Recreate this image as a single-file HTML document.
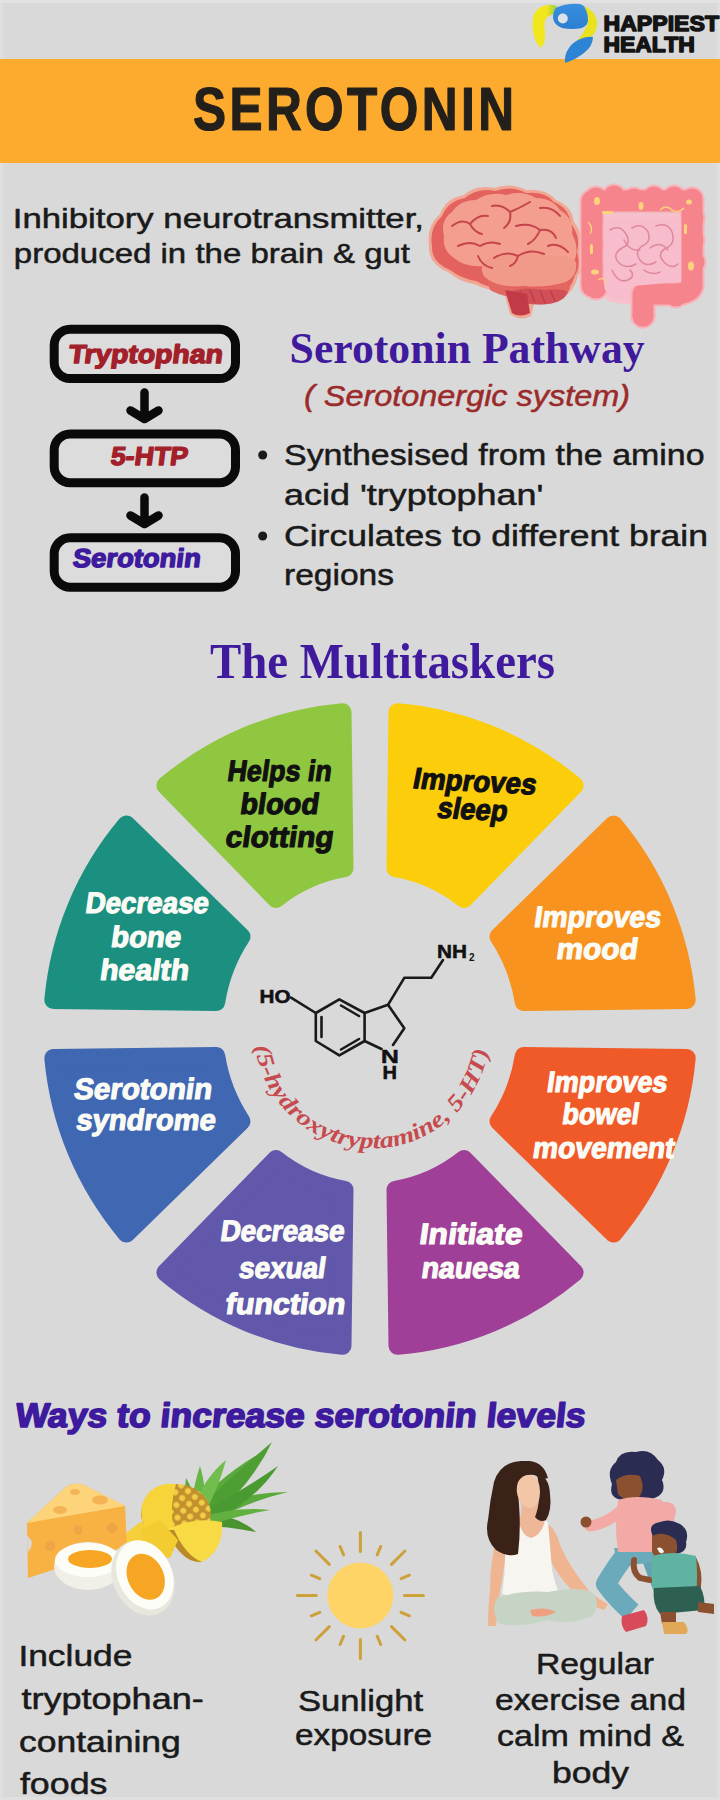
<!DOCTYPE html>
<html><head><meta charset="utf-8">
<style>
html,body{margin:0;padding:0;}
body{width:720px;height:1800px;background:#d9d9d9;position:relative;overflow:hidden;font-family:"Liberation Sans",sans-serif;}
svg{position:absolute;left:0;top:0;}
</style></head><body>
<svg width="720" height="1800" viewBox="0 0 720 1800">
<rect x="0" y="0" width="3" height="1800" fill="#dfdfdf"/><rect x="717" y="0" width="3" height="1800" fill="#dfdfdf"/><rect x="0" y="1797" width="720" height="3" fill="#dfdfdf"/><rect x="0" y="0" width="720" height="3" fill="#e2e2e2"/>
<rect x="0" y="59" width="720" height="104" fill="#fdab2f"/>
<path d="M395.5 868.2 L397.5 712.2 A318 318 0 0 1 574.6 785.5 L464.0 898.9 A156 163 0 0 0 395.5 868.2 Z" fill="#fbcd0a" stroke="#fbcd0a" stroke-width="18" stroke-linejoin="round"/>
<path d="M498.5 936.6 L613.5 824.4 A318 318 0 0 1 686.7 1000.0 L523.8 1002.0 A156 163 0 0 0 498.5 936.6 Z" fill="#f7931e" stroke="#f7931e" stroke-width="18" stroke-linejoin="round"/>
<path d="M523.8 1056.0 L686.7 1058.0 A318 318 0 0 1 613.5 1233.6 L498.5 1121.4 A156 163 0 0 0 523.8 1056.0 Z" fill="#f05a28" stroke="#f05a28" stroke-width="18" stroke-linejoin="round"/>
<path d="M464.0 1159.1 L574.6 1272.5 A318 318 0 0 1 397.5 1345.8 L395.5 1189.8 A156 163 0 0 0 464.0 1159.1 Z" fill="#a03f98" stroke="#a03f98" stroke-width="18" stroke-linejoin="round"/>
<path d="M344.5 1189.8 L342.5 1345.8 A318 318 0 0 1 165.4 1272.5 L276.0 1159.1 A156 163 0 0 0 344.5 1189.8 Z" fill="#6157ab" stroke="#6157ab" stroke-width="18" stroke-linejoin="round"/>
<path d="M241.5 1121.4 L126.5 1233.6 A318 318 0 0 1 53.3 1058.0 L216.2 1056.0 A156 163 0 0 0 241.5 1121.4 Z" fill="#3f67b2" stroke="#3f67b2" stroke-width="18" stroke-linejoin="round"/>
<path d="M216.2 1002.0 L53.3 1000.0 A318 318 0 0 1 126.5 824.4 L241.5 936.6 A156 163 0 0 0 216.2 1002.0 Z" fill="#1b9080" stroke="#1b9080" stroke-width="18" stroke-linejoin="round"/>
<path d="M276.0 898.9 L165.4 785.5 A318 318 0 0 1 342.5 712.2 L344.5 868.2 A156 163 0 0 0 276.0 898.9 Z" fill="#8fc740" stroke="#8fc740" stroke-width="18" stroke-linejoin="round"/>

<rect x="54.2" y="329.2" width="181.3" height="49.30000000000001" rx="16" ry="16" fill="#dcdcdc" stroke="#0a0a0a" stroke-width="9"/>
<rect x="54.2" y="433.9" width="181.3" height="48.80000000000001" rx="16" ry="16" fill="#dcdcdc" stroke="#0a0a0a" stroke-width="9"/>
<rect x="54.2" y="537.8" width="181.3" height="49.40000000000009" rx="16" ry="16" fill="#dcdcdc" stroke="#0a0a0a" stroke-width="9"/>
<path d="M144.5 392.5 L144.5 417 M130.5 410.5 L144.5 419 L158.5 410.5" fill="none" stroke="#0a0a0a" stroke-width="8.5" stroke-linecap="round" stroke-linejoin="round"/>
<path d="M144.5 497.5 L144.5 522 M130.5 515.5 L144.5 524 L158.5 515.5" fill="none" stroke="#0a0a0a" stroke-width="8.5" stroke-linecap="round" stroke-linejoin="round"/>
<circle cx="262.7" cy="455" r="4.5" fill="#1a1a1a"/>
<circle cx="262.7" cy="536" r="4.5" fill="#1a1a1a"/>
<g fill="none" stroke="#1a1a1a" stroke-width="2.6" stroke-linejoin="round" stroke-linecap="round"><path d="M315.8 1013.0 L339.3 999.4 L364.6 1013.0 L364.6 1041.0 L339.3 1055.4 L315.8 1041.0 Z"/><path d="M291 997.6 L315.8 1013"/><path d="M321.5 1017 L321.5 1037 M341 1005.5 L359 1016 M341 1049.5 L359 1039"/><path d="M364.6 1013 L388 1004.8 L404.3 1028.3 L393 1045 M381.5 1049 L364.6 1041"/><path d="M388 1004.8 L404.3 977.8 L431.3 977.8 L443 960"/></g>
<text x="259.5" y="1003" font-family="Liberation Sans" font-weight="bold" font-size="18" textLength="31" lengthAdjust="spacingAndGlyphs" fill="#111" stroke="#111" stroke-width="0.5">HO</text>
<text x="437" y="958" font-family="Liberation Sans" font-weight="bold" font-size="18" textLength="30" lengthAdjust="spacingAndGlyphs" fill="#111" stroke="#111" stroke-width="0.5">NH</text>
<text x="469" y="961" font-family="Liberation Sans" font-weight="bold" font-size="10" fill="#111">2</text>
<text x="381" y="1062.6" font-family="Liberation Sans" font-weight="bold" font-size="18" textLength="17.8" lengthAdjust="spacingAndGlyphs" fill="#111" stroke="#111" stroke-width="0.5">N</text>
<text x="382.6" y="1079" font-family="Liberation Sans" font-weight="bold" font-size="18" textLength="14.5" lengthAdjust="spacingAndGlyphs" fill="#111" stroke="#111" stroke-width="0.5">H</text>
<path id="arc" d="M255.1 1046.4 A118 118 0 0 0 488.9 1046.4" fill="none"/>
<text font-family="Liberation Serif" font-style="italic" font-weight="bold" font-size="23" fill="#c64a4e"><textPath href="#arc" textLength="334" lengthAdjust="spacingAndGlyphs">(5-hydroxytryptamine, 5-HT)</textPath></text><defs><linearGradient id="lg1" x1="0" y1="0" x2="1" y2="0"><stop offset="0.55" stop-color="#f2e61c"/><stop offset="1" stop-color="#8cc850"/></linearGradient><linearGradient id="lg2" x1="0" y1="0" x2="0" y2="1"><stop offset="0" stop-color="#3a8ee0"/><stop offset="1" stop-color="#2a7fd0"/></linearGradient></defs>
<path d="M548 5 Q538 6 534 14 Q531 24 534 36 Q536 44 541 48 Q546 42 545 32 Q543 22 547 17 Q551 14 557 14 L558 7 Q553 4 548 5 Z" fill="url(#lg1)"/>
<path d="M556 8 Q566 3 580 4 Q589 7 589 16 Q589 25 582 28 Q572 30 562 28 Q554 25 553 18 Q553 11 556 8 Z" fill="url(#lg2)"/>
<circle cx="562.8" cy="18.5" r="5" fill="#dde2e6"/>
<path d="M584 6 Q594 10 597 20 Q598 31 591 37 Q585 41 577 41 Q583 34 587 26 Q590 16 584 6 Z" fill="#e9e21e"/>
<path d="M578 40 Q586 36 593 37 Q593 46 584 53 Q575 60 565 63 Q564 55 569 48 Q572 43 578 40 Z" fill="#2d84d4"/>
<g>
<path d="M429 246 Q426 226 440 214 Q446 198 464 195 Q476 184 494 188 Q512 182 526 190 Q546 188 556 200 Q572 206 574 222 Q584 234 580 252 Q584 268 578 276 Q574 292 562 298 Q550 306 534 304 L531 316 Q520 322 510 314 L504 292 Q486 290 474 284 Q460 282 448 272 Q428 264 429 246 Z" fill="#f0a894"/>
<path d="M432 246 Q429 228 442 216 Q448 201 465 198 Q478 187 495 191 Q512 185 526 193 Q545 191 554 202 Q569 208 571 224 Q581 236 577 252 Q581 267 575 275 Q571 290 560 295 Q548 302 533 300 Q520 300 506 290 Q488 288 476 281 Q462 279 450 270 Q431 262 432 246 Z" fill="#e3625e"/>
<path d="M444 236 Q440 220 452 212 Q460 200 476 200 Q490 191 506 195 Q522 190 536 198 Q552 198 560 210 Q574 218 572 234 Q580 248 574 262 Q570 272 560 272 Q540 276 520 272 Q500 276 484 266 Q466 268 454 258 Q442 250 444 236 Z" fill="#f39e8e"/>
<path d="M484 262 Q494 252 512 256 Q530 250 550 256 Q566 254 576 262 Q578 276 566 282 Q546 288 524 286 Q502 288 488 280 Q478 272 484 262 Z" fill="#f29a8a"/>
<path d="M486 278 Q502 290 526 288 Q550 290 568 282 Q574 290 562 296 Q544 300 526 298 Q504 298 490 290 Z" fill="#e46862"/>
<path d="M510 292 Q524 286 544 290 Q562 288 568 292 Q564 302 548 304 Q530 306 514 300 Z" fill="#d24f57"/>
<path d="M505 290 L512 313 Q520 318 530 313 L527 294 Z" fill="#c23a46"/>
<g fill="none" stroke="#c4454b" stroke-width="2" stroke-linecap="round" stroke-linejoin="round"><path d="M452 226 Q462 218 470 224 Q478 214 488 216 M470 224 Q474 232 482 234"/><path d="M458 246 Q470 240 480 246 Q490 240 500 244"/><path d="M492 206 Q502 204 510 212 Q520 208 530 202 M510 212 Q512 222 504 228"/><path d="M516 226 Q530 222 540 230 Q552 228 556 238 M540 230 Q536 240 528 244"/><path d="M540 208 Q552 206 560 216"/><path d="M494 258 Q506 250 518 256 Q530 248 544 254 M518 256 Q516 264 510 266"/><path d="M548 246 Q558 242 568 252"/><path d="M478 256 Q482 266 492 268"/></g>
<g stroke="#b8404a" stroke-width="1.4"><path d="M520 291 L525 302 M530 290 L535 303 M540 290 L545 303 M550 290 L555 301"/></g>
</g>
<g>
<path d="M603 216 L682 216 L682 292 L640 300 Q630 304 612 300 Q604 298 603 286 Z" fill="#f7bdcc" stroke="#f8c0cc" stroke-width="4"/>
<g fill="#f8b3b9"><circle cx="596" cy="198" r="12.5"/><circle cx="614" cy="196" r="12.5"/><circle cx="634" cy="199" r="12.5"/><circle cx="654" cy="197" r="12.5"/><circle cx="674" cy="197" r="12.5"/><circle cx="692" cy="199" r="12.5"/><circle cx="693" cy="218" r="12.5"/><circle cx="693" cy="240" r="12.5"/><circle cx="694" cy="262" r="12.5"/><circle cx="692" cy="284" r="12.5"/><circle cx="676" cy="296" r="12.5"/><circle cx="592" cy="222" r="12.5"/><circle cx="592" cy="246" r="12.5"/><circle cx="592" cy="270" r="12.5"/><circle cx="596" cy="288" r="12.5"/><circle cx="643" cy="316" r="12.5"/></g>
<path d="M592 286 L592 201 L692 201 L692 286 Q690 294 672 294 L643 294 L643 316" fill="none" stroke="#f8b3b9" stroke-width="25" stroke-linecap="round" stroke-linejoin="round"/>
<g fill="#f5848d"><circle cx="596" cy="198" r="10.5"/><circle cx="614" cy="196" r="10.5"/><circle cx="634" cy="199" r="10.5"/><circle cx="654" cy="197" r="10.5"/><circle cx="674" cy="197" r="10.5"/><circle cx="692" cy="199" r="10.5"/><circle cx="693" cy="218" r="10.5"/><circle cx="693" cy="240" r="10.5"/><circle cx="694" cy="262" r="10.5"/><circle cx="692" cy="284" r="10.5"/><circle cx="676" cy="296" r="10.5"/><circle cx="592" cy="222" r="10.5"/><circle cx="592" cy="246" r="10.5"/><circle cx="592" cy="270" r="10.5"/><circle cx="596" cy="288" r="10.5"/><circle cx="643" cy="316" r="10.5"/></g>
<path d="M592 286 L592 201 L692 201 L692 286 Q690 294 672 294 L643 294 L643 316" fill="none" stroke="#f5848d" stroke-width="21" stroke-linecap="round" stroke-linejoin="round"/>
<path d="M604 218 L681 218 L681 282 Q668 282 656 284 L632 286 Q628 296 614 296 Q604 294 604 284 Z" fill="#f7bdcc"/>
<g fill="none" stroke="#df88a0" stroke-width="1.5" stroke-linecap="round"><path d="M610 230 Q620 224 626 234 Q632 244 622 248 Q612 254 618 262 Q626 270 636 264"/><path d="M632 228 Q642 222 648 232 Q652 242 642 246 Q634 252 640 260 Q646 268 656 262"/><path d="M656 226 Q668 222 672 232 Q676 244 666 248 Q656 254 664 262 Q672 270 678 264"/><path d="M612 270 Q618 284 628 280 Q636 276 630 270"/><path d="M644 270 Q652 276 660 272"/><path d="M624 240 Q630 252 640 250"/><path d="M650 248 Q660 240 668 250"/></g>
<g fill="#fcd27c"><ellipse cx="597" cy="201" rx="3" ry="4"/><rect x="602" y="211" width="11" height="3" rx="1.5"/><ellipse cx="641" cy="206" rx="2.5" ry="4"/><ellipse cx="689" cy="202" rx="3" ry="2.5"/><ellipse cx="691" cy="266" rx="3" ry="4.5"/><ellipse cx="595" cy="272" rx="4" ry="2.5"/><rect x="590" y="244" width="3" height="10" rx="1.5"/><rect x="684" y="224" width="3" height="10" rx="1.5"/></g>
<g fill="none" stroke="#fcd27c" stroke-width="1.3"><path d="M660 210 Q666 204 672 210 Q678 214 684 208"/><path d="M598 280 Q604 276 606 284"/><path d="M588 222 Q594 228 590 234"/></g>
</g><circle cx="360.4" cy="1595.5" r="33" fill="#fed466"/>
<path d="M360.4 1551.5 L360.4 1532.5 M377.2 1554.8 L380.7 1546.5 M391.5 1564.4 L404.9 1551.0 M401.1 1578.7 L409.4 1575.2 M404.4 1595.5 L423.4 1595.5 M401.1 1612.3 L409.4 1615.8 M391.5 1626.6 L404.9 1640.0 M377.2 1636.2 L380.7 1644.5 M360.4 1639.5 L360.4 1658.5 M343.6 1636.2 L340.1 1644.5 M329.3 1626.6 L315.9 1640.0 M319.7 1612.3 L311.4 1615.8 M316.4 1595.5 L297.4 1595.5 M319.7 1578.7 L311.4 1575.2 M329.3 1564.4 L315.9 1551.0 M343.6 1554.8 L340.1 1546.5" stroke="#cda13a" stroke-width="3" stroke-linecap="round" fill="none"/>
<g><path d="M192 1512 Q214 1480 262 1452 Q240 1486 206 1520 Z" fill="#5aa93c"/><path d="M194 1512 Q230 1478 272 1442 Q252 1484 210 1520 Z" fill="#4e9e34"/><path d="M196 1514 Q240 1492 288 1492 Q246 1502 208 1524 Z" fill="#5aa93c"/><path d="M198 1516 Q234 1512 256 1532 Q226 1526 204 1526 Z" fill="#4a9430"/><path d="M190 1510 Q194 1484 200 1466 Q208 1492 202 1514 Z" fill="#66b545"/><path d="M192 1510 Q204 1478 226 1460 Q218 1490 204 1514 Z" fill="#72bd4c"/><path d="M196 1514 Q238 1494 278 1466 Q256 1500 212 1522 Z" fill="#4a9a32"/><path d="M198 1518 Q236 1506 270 1510 Q236 1516 206 1526 Z" fill="#62b040"/><path d="M188 1510 Q184 1492 186 1478 Q196 1494 196 1512 Z" fill="#5aa93c"/></g>
<defs><pattern id="pp" width="9" height="9" patternUnits="userSpaceOnUse" patternTransform="rotate(40)"><rect width="9" height="9" fill="#c2902c"/><circle cx="4.5" cy="4.5" r="3" fill="#f0cc48"/></pattern></defs>
<ellipse cx="176" cy="1514" rx="35" ry="30" fill="url(#pp)"/>
<path d="M176 1484 Q150 1482 142 1505 Q138 1530 160 1542 Q172 1546 180 1540 Q166 1520 176 1484 Z" fill="#f6d43a"/>
<path d="M166 1530 Q194 1516 222 1522 Q224 1550 202 1562 Q182 1564 166 1530 Z" fill="#f8da45"/>
<path d="M166 1530 Q182 1564 202 1562 Q186 1556 174 1530 Z" fill="#b88a2a"/>
<path d="M118 1540 L140 1522 L158 1532 L146 1555 Z" fill="#f5d03a"/>
<path d="M140 1530 L160 1520 L178 1540 L170 1558 L150 1555 Z" fill="#f2cc30"/>
<path d="M27 1523 L67 1486 Q75 1482 84 1485 L125 1506 L127 1546 L28 1578 Z" fill="#f8b244"/>
<path d="M27 1523 L67 1486 Q75 1482 84 1485 L125 1506 Z" fill="#fdd479"/>
<g fill="#efa445"><ellipse cx="100" cy="1500" rx="8" ry="4.5" fill="#f4b456"/><ellipse cx="60" cy="1510" rx="7" ry="4" fill="#f4b456"/><ellipse cx="75" cy="1492" rx="5" ry="3" fill="#f4b456"/><circle cx="50" cy="1546" r="5"/><circle cx="78" cy="1530" r="4.5"/><circle cx="112" cy="1528" r="5"/></g>
<path d="M27 1536 Q36 1542 28 1552 Z" fill="#d9d9d9"/>
<ellipse cx="88" cy="1566" rx="34" ry="24" fill="#f1efe8"/>
<ellipse cx="88" cy="1560" rx="33" ry="17" fill="#fdfdf8"/>
<ellipse cx="90" cy="1559" rx="22" ry="9" fill="#f6a623"/>
<g transform="rotate(-25 143 1578)"><ellipse cx="143" cy="1578" rx="30" ry="39" fill="#e9e6de"/><ellipse cx="146" cy="1576" rx="27" ry="36" fill="#fdfdf8"/><ellipse cx="146" cy="1578" rx="18" ry="24" fill="#f6a623"/></g>
<g>
<path d="M498 1532 Q490 1560 490 1590 Q488 1610 488 1626 L496 1626 Q498 1600 502 1580 Q506 1556 508 1536 Z" fill="#efb590"/>
<path d="M545 1522 Q556 1528 560 1545 Q570 1568 590 1592 Q600 1600 608 1604 L604 1610 Q592 1606 580 1598 Q560 1580 550 1560 Q544 1540 545 1522 Z" fill="#efb590"/>
<path d="M519 1520 Q522 1536 531 1538 Q540 1536 543 1520 L548 1522 Q550 1545 552 1570 Q556 1588 560 1594 Q530 1600 502 1594 Q506 1570 505 1545 Q505 1530 510 1522 Z" fill="#f7f5ef"/>
<path d="M522 1498 L538 1498 L540 1516 Q546 1520 544 1524 Q540 1536 531 1538 Q522 1536 519 1522 Q516 1518 521 1516 Z" fill="#eeb898"/>
<path d="M521 1461 Q500 1462 494 1482 Q490 1500 488 1520 Q484 1538 496 1550 Q508 1558 518 1554 Q521 1530 519 1505 Q517 1485 524 1476 Q536 1472 540 1480 L548 1478 Q544 1463 530 1461 Z" fill="#3a2219"/>
<path d="M537 1474 Q549 1476 550 1494 Q552 1510 546 1520 Q540 1523 535 1517 Q542 1500 537 1474 Z" fill="#3a2219"/>
<path d="M518 1482 Q522 1474 532 1475 Q540 1479 540 1492 Q540 1504 532 1508 Q523 1508 519 1500 Q515 1490 518 1482 Z" fill="#f2c6a6"/>
<path d="M497 1598 Q520 1590 548 1592 Q575 1586 592 1592 Q602 1604 592 1616 Q570 1626 548 1620 Q520 1628 500 1624 Q490 1612 497 1598 Z" fill="#c6d4c6"/>
<path d="M530 1610 Q545 1606 556 1612 Q545 1618 532 1616 Z" fill="#eea080"/>
</g>
<g>
<path d="M622 1500 Q608 1498 612 1484 Q606 1470 616 1462 Q620 1450 636 1452 Q650 1448 658 1460 Q668 1468 662 1480 Q668 1494 652 1499 Q640 1502 622 1500 Z" fill="#2b2c52"/>
<path d="M616 1480 Q626 1472 640 1476 Q646 1490 638 1498 Q624 1502 618 1494 Z" fill="#8b5030"/>
<path d="M660 1502 Q676 1500 676 1512 L672 1528 L660 1526 Z" fill="#f3aaa6"/>
<path d="M650 1556 L662 1588 L668 1600" stroke="#62a2b4" stroke-width="18" fill="none" stroke-linejoin="round"/>
<path d="M628 1552 Q615 1568 606 1584 Q618 1600 632 1612" stroke="#6aaabb" stroke-width="20" fill="none" stroke-linejoin="round"/>
<path d="M614 1548 L660 1548 L660 1562 L618 1566 Z" fill="#6aaabb"/>
<path d="M618 1500 Q636 1494 662 1500 Q666 1525 662 1552 L618 1552 Q614 1525 618 1500 Z" fill="#f3aaa6"/>
<path d="M622 1510 Q606 1524 590 1526" stroke="#f3aaa6" stroke-width="11" fill="none" stroke-linecap="round"/>
<circle cx="586" cy="1522" r="5.5" fill="#8b5030"/>
<path d="M622 1616 L644 1610 Q650 1618 646 1626 L626 1632 Q620 1626 622 1616 Z" fill="#d84a5a"/>
</g>
<g>
<path d="M652 1534 Q648 1524 660 1522 Q670 1518 680 1524 Q690 1530 686 1542 Q688 1552 676 1554 L656 1552 Z" fill="#2b2c52"/>
<path d="M652 1536 Q664 1530 676 1540 Q680 1554 670 1560 Q656 1562 652 1552 Z" fill="#8b5030"/>
<path d="M657 1548 Q662 1546 664 1552 Q660 1556 657 1548 Z" fill="#f5f5f5"/>
<path d="M634 1560 Q632 1572 640 1578 L650 1580" stroke="#8b5030" stroke-width="6" fill="none" stroke-linecap="round"/>
<path d="M694 1560 Q700 1572 698 1586" stroke="#8b5030" stroke-width="6" fill="none" stroke-linecap="round"/>
<path d="M652 1556 Q672 1550 696 1556 Q698 1576 696 1594 L654 1594 Q650 1576 652 1556 Z" fill="#5fb3a0"/>
<path d="M654 1588 L700 1586 Q706 1598 704 1610 L660 1614 Q652 1604 654 1588 Z" fill="#2d5f52"/>
<path d="M660 1612 L676 1612 L676 1624 L662 1624 Z" fill="#8b5030"/>
<path d="M698 1602 L714 1604 L714 1614 L698 1612 Z" fill="#8b5030"/>
<path d="M662 1622 L684 1622 Q690 1630 686 1634 L664 1634 Z" fill="#e1a858"/>
</g>
<text x="603.50" y="30.7" textLength="115.50" lengthAdjust="spacingAndGlyphs" font-family="Liberation Sans" font-size="22.5" font-weight="bold" font-style="normal" fill="#141414" stroke="#141414" stroke-width="1.5" stroke-linejoin="round">HAPPIEST</text>
<text x="603.50" y="52.3" textLength="91.20" lengthAdjust="spacingAndGlyphs" font-family="Liberation Sans" font-size="22.5" font-weight="bold" font-style="normal" fill="#141414" stroke="#141414" stroke-width="1.5" stroke-linejoin="round">HEALTH</text>
<text x="241.25" y="130" textLength="401.25" lengthAdjust="spacing" font-family="Liberation Sans" font-size="62" font-weight="bold" font-style="normal" fill="#231f1a" transform="scale(0.8,1)" stroke="#231f1a" stroke-width="1.2" stroke-linejoin="round">SEROTONIN</text>
<text x="12.80" y="227.5" textLength="411.20" lengthAdjust="spacingAndGlyphs" font-family="Liberation Sans" font-size="28" font-weight="normal" font-style="normal" fill="#1a1a1a" stroke="#1a1a1a" stroke-width="0.5" stroke-linejoin="round">Inhibitory neurotransmitter,</text>
<text x="13.80" y="263.3" textLength="396.20" lengthAdjust="spacingAndGlyphs" font-family="Liberation Sans" font-size="28" font-weight="normal" font-style="normal" fill="#1a1a1a" stroke="#1a1a1a" stroke-width="0.5" stroke-linejoin="round">produced in the brain &amp; gut</text>
<text x="112.27" y="363" textLength="154.30" lengthAdjust="spacingAndGlyphs" font-family="Liberation Sans" font-size="26" font-weight="bold" font-style="normal" fill="#a3202a" transform="skewX(-7)" stroke="#a3202a" stroke-width="1.4" stroke-linejoin="round">Tryptophan</text>
<text x="167.09" y="465" textLength="77.00" lengthAdjust="spacingAndGlyphs" font-family="Liberation Sans" font-size="26" font-weight="bold" font-style="normal" fill="#a3202a" transform="skewX(-7)" stroke="#a3202a" stroke-width="1.4" stroke-linejoin="round">5-HTP</text>
<text x="141.62" y="567" textLength="128.00" lengthAdjust="spacingAndGlyphs" font-family="Liberation Sans" font-size="26" font-weight="bold" font-style="normal" fill="#3d1a9e" transform="skewX(-7)" stroke="#3d1a9e" stroke-width="1.4" stroke-linejoin="round">Serotonin</text>
<text x="289.60" y="363" textLength="355.00" lengthAdjust="spacingAndGlyphs" font-family="Liberation Serif" font-size="44" font-weight="bold" font-style="normal" fill="#3f1a9c">Serotonin Pathway</text>
<text x="304.00" y="405.5" textLength="326.00" lengthAdjust="spacingAndGlyphs" font-family="Liberation Sans" font-size="30" font-weight="normal" font-style="italic" fill="#9b2a2a" stroke="#9b2a2a" stroke-width="0.5" stroke-linejoin="round">( Serotonergic system)</text>
<text x="284.00" y="465" textLength="420.60" lengthAdjust="spacingAndGlyphs" font-family="Liberation Sans" font-size="30" font-weight="normal" font-style="normal" fill="#1a1a1a" stroke="#1a1a1a" stroke-width="0.5" stroke-linejoin="round">Synthesised from the amino</text>
<text x="284.00" y="505" textLength="259.40" lengthAdjust="spacingAndGlyphs" font-family="Liberation Sans" font-size="30" font-weight="normal" font-style="normal" fill="#1a1a1a" stroke="#1a1a1a" stroke-width="0.5" stroke-linejoin="round">acid &#39;tryptophan&#39;</text>
<text x="284.00" y="546" textLength="424.00" lengthAdjust="spacingAndGlyphs" font-family="Liberation Sans" font-size="30" font-weight="normal" font-style="normal" fill="#1a1a1a" stroke="#1a1a1a" stroke-width="0.5" stroke-linejoin="round">Circulates to different  brain</text>
<text x="284.00" y="585" textLength="110.00" lengthAdjust="spacingAndGlyphs" font-family="Liberation Sans" font-size="30" font-weight="normal" font-style="normal" fill="#1a1a1a" stroke="#1a1a1a" stroke-width="0.5" stroke-linejoin="round">regions</text>
<text x="210.00" y="677.5" textLength="345.00" lengthAdjust="spacingAndGlyphs" font-family="Liberation Serif" font-size="50" font-weight="bold" font-style="normal" fill="#3f1a9c">The Multitaskers</text>
<text x="336.28" y="781.1" textLength="104.00" lengthAdjust="spacingAndGlyphs" font-family="Liberation Sans" font-size="29.5" font-weight="bold" font-style="normal" fill="#111" transform="skewX(-8)" stroke="#111" stroke-width="1.2" stroke-linejoin="round">Helps in</text>
<text x="353.63" y="814.2" textLength="78.70" lengthAdjust="spacingAndGlyphs" font-family="Liberation Sans" font-size="29.5" font-weight="bold" font-style="normal" fill="#111" transform="skewX(-8)" stroke="#111" stroke-width="1.2" stroke-linejoin="round">blood</text>
<text x="343.67" y="847.2" textLength="108.00" lengthAdjust="spacingAndGlyphs" font-family="Liberation Sans" font-size="29.5" font-weight="bold" font-style="normal" fill="#111" transform="skewX(-8)" stroke="#111" stroke-width="1.2" stroke-linejoin="round">clotting</text>
<text x="522.45" y="788" textLength="123.30" lengthAdjust="spacingAndGlyphs" font-family="Liberation Sans" font-size="29.5" font-weight="bold" font-style="normal" fill="#111" transform="rotate(3 411.7 788) skewX(-8)" stroke="#111" stroke-width="1.2" stroke-linejoin="round">Improves</text>
<text x="550.89" y="817.5" textLength="70.00" lengthAdjust="spacingAndGlyphs" font-family="Liberation Sans" font-size="29.5" font-weight="bold" font-style="normal" fill="#111" transform="rotate(3 436 817.5) skewX(-8)" stroke="#111" stroke-width="1.2" stroke-linejoin="round">sleep</text>
<text x="663.54" y="926.7" textLength="126.70" lengthAdjust="spacingAndGlyphs" font-family="Liberation Sans" font-size="29.5" font-weight="bold" font-style="normal" fill="#fbfbf6" transform="skewX(-8)" stroke="#fbfbf6" stroke-width="1.2" stroke-linejoin="round">Improves</text>
<text x="690.36" y="958.9" textLength="81.00" lengthAdjust="spacingAndGlyphs" font-family="Liberation Sans" font-size="29.5" font-weight="bold" font-style="normal" fill="#fbfbf6" transform="skewX(-8)" stroke="#fbfbf6" stroke-width="1.2" stroke-linejoin="round">mood</text>
<text x="212.76" y="913.3" textLength="123.40" lengthAdjust="spacingAndGlyphs" font-family="Liberation Sans" font-size="29.5" font-weight="bold" font-style="normal" fill="#fbfbf6" transform="skewX(-8)" stroke="#fbfbf6" stroke-width="1.2" stroke-linejoin="round">Decrease</text>
<text x="243.05" y="946.7" textLength="70.00" lengthAdjust="spacingAndGlyphs" font-family="Liberation Sans" font-size="29.5" font-weight="bold" font-style="normal" fill="#fbfbf6" transform="skewX(-8)" stroke="#fbfbf6" stroke-width="1.2" stroke-linejoin="round">bone</text>
<text x="236.63" y="980" textLength="89.00" lengthAdjust="spacingAndGlyphs" font-family="Liberation Sans" font-size="29.5" font-weight="bold" font-style="normal" fill="#fbfbf6" transform="skewX(-8)" stroke="#fbfbf6" stroke-width="1.2" stroke-linejoin="round">health</text>
<text x="227.48" y="1099.2" textLength="138.00" lengthAdjust="spacingAndGlyphs" font-family="Liberation Sans" font-size="29.5" font-weight="bold" font-style="normal" fill="#fbfbf6" transform="skewX(-8)" stroke="#fbfbf6" stroke-width="1.2" stroke-linejoin="round">Serotonin</text>
<text x="234.11" y="1130" textLength="139.40" lengthAdjust="spacingAndGlyphs" font-family="Liberation Sans" font-size="29.5" font-weight="bold" font-style="normal" fill="#fbfbf6" transform="skewX(-8)" stroke="#fbfbf6" stroke-width="1.2" stroke-linejoin="round">syndrome</text>
<text x="699.46" y="1091.9" textLength="120.40" lengthAdjust="spacingAndGlyphs" font-family="Liberation Sans" font-size="29.5" font-weight="bold" font-style="normal" fill="#fbfbf6" transform="skewX(-8)" stroke="#fbfbf6" stroke-width="1.2" stroke-linejoin="round">Improves</text>
<text x="719.24" y="1123.8" textLength="76.70" lengthAdjust="spacingAndGlyphs" font-family="Liberation Sans" font-size="29.5" font-weight="bold" font-style="normal" fill="#fbfbf6" transform="skewX(-8)" stroke="#fbfbf6" stroke-width="1.2" stroke-linejoin="round">bowel</text>
<text x="694.55" y="1158" textLength="141.70" lengthAdjust="spacingAndGlyphs" font-family="Liberation Sans" font-size="29.5" font-weight="bold" font-style="normal" fill="#fbfbf6" transform="skewX(-8)" stroke="#fbfbf6" stroke-width="1.2" stroke-linejoin="round">movement</text>
<text x="393.85" y="1241.25" textLength="124.00" lengthAdjust="spacingAndGlyphs" font-family="Liberation Sans" font-size="29.5" font-weight="bold" font-style="normal" fill="#fbfbf6" transform="skewX(-8)" stroke="#fbfbf6" stroke-width="1.2" stroke-linejoin="round">Decrease</text>
<text x="417.57" y="1277.7" textLength="86.60" lengthAdjust="spacingAndGlyphs" font-family="Liberation Sans" font-size="29.5" font-weight="bold" font-style="normal" fill="#fbfbf6" transform="skewX(-8)" stroke="#fbfbf6" stroke-width="1.2" stroke-linejoin="round">sexual</text>
<text x="409.30" y="1314.2" textLength="119.80" lengthAdjust="spacingAndGlyphs" font-family="Liberation Sans" font-size="29.5" font-weight="bold" font-style="normal" fill="#fbfbf6" transform="skewX(-8)" stroke="#fbfbf6" stroke-width="1.2" stroke-linejoin="round">function</text>
<text x="593.33" y="1244" textLength="103.00" lengthAdjust="spacingAndGlyphs" font-family="Liberation Sans" font-size="29.5" font-weight="bold" font-style="normal" fill="#fbfbf6" transform="skewX(-8)" stroke="#fbfbf6" stroke-width="1.2" stroke-linejoin="round">Initiate</text>
<text x="600.01" y="1278" textLength="98.20" lengthAdjust="spacingAndGlyphs" font-family="Liberation Sans" font-size="29.5" font-weight="bold" font-style="normal" fill="#fbfbf6" transform="skewX(-8)" stroke="#fbfbf6" stroke-width="1.2" stroke-linejoin="round">nauesa</text>
<text x="164.64" y="1427.5" textLength="570.00" lengthAdjust="spacingAndGlyphs" font-family="Liberation Sans" font-size="34" font-weight="bold" font-style="normal" fill="#3d1a9e" transform="skewX(-6)" stroke="#3d1a9e" stroke-width="1.6" stroke-linejoin="round">Ways to increase serotonin levels</text>
<text x="18.40" y="1666" textLength="114.00" lengthAdjust="spacingAndGlyphs" font-family="Liberation Sans" font-size="29" font-weight="normal" font-style="normal" fill="#1a1a1a" stroke="#1a1a1a" stroke-width="0.5" stroke-linejoin="round">Include</text>
<text x="21.40" y="1709" textLength="182.40" lengthAdjust="spacingAndGlyphs" font-family="Liberation Sans" font-size="29" font-weight="normal" font-style="normal" fill="#1a1a1a" stroke="#1a1a1a" stroke-width="0.5" stroke-linejoin="round">tryptophan-</text>
<text x="18.90" y="1751.6" textLength="162.00" lengthAdjust="spacingAndGlyphs" font-family="Liberation Sans" font-size="29" font-weight="normal" font-style="normal" fill="#1a1a1a" stroke="#1a1a1a" stroke-width="0.5" stroke-linejoin="round">containing</text>
<text x="19.90" y="1794.4" textLength="87.60" lengthAdjust="spacingAndGlyphs" font-family="Liberation Sans" font-size="29" font-weight="normal" font-style="normal" fill="#1a1a1a" stroke="#1a1a1a" stroke-width="0.5" stroke-linejoin="round">foods</text>
<text x="298.00" y="1710.6" textLength="125.00" lengthAdjust="spacingAndGlyphs" font-family="Liberation Sans" font-size="29" font-weight="normal" font-style="normal" fill="#1a1a1a" stroke="#1a1a1a" stroke-width="0.5" stroke-linejoin="round">Sunlight</text>
<text x="295.00" y="1745" textLength="137.00" lengthAdjust="spacingAndGlyphs" font-family="Liberation Sans" font-size="29" font-weight="normal" font-style="normal" fill="#1a1a1a" stroke="#1a1a1a" stroke-width="0.5" stroke-linejoin="round">exposure</text>
<text x="536.00" y="1674" textLength="118.00" lengthAdjust="spacingAndGlyphs" font-family="Liberation Sans" font-size="29" font-weight="normal" font-style="normal" fill="#1a1a1a" stroke="#1a1a1a" stroke-width="0.5" stroke-linejoin="round">Regular</text>
<text x="495.00" y="1710" textLength="191.00" lengthAdjust="spacingAndGlyphs" font-family="Liberation Sans" font-size="29" font-weight="normal" font-style="normal" fill="#1a1a1a" stroke="#1a1a1a" stroke-width="0.5" stroke-linejoin="round">exercise and</text>
<text x="497.00" y="1746" textLength="187.00" lengthAdjust="spacingAndGlyphs" font-family="Liberation Sans" font-size="29" font-weight="normal" font-style="normal" fill="#1a1a1a" stroke="#1a1a1a" stroke-width="0.5" stroke-linejoin="round">calm mind &amp;</text>
<text x="552.00" y="1782.5" textLength="77.00" lengthAdjust="spacingAndGlyphs" font-family="Liberation Sans" font-size="29" font-weight="normal" font-style="normal" fill="#1a1a1a" stroke="#1a1a1a" stroke-width="0.5" stroke-linejoin="round">body</text>
</svg>
</body></html>
